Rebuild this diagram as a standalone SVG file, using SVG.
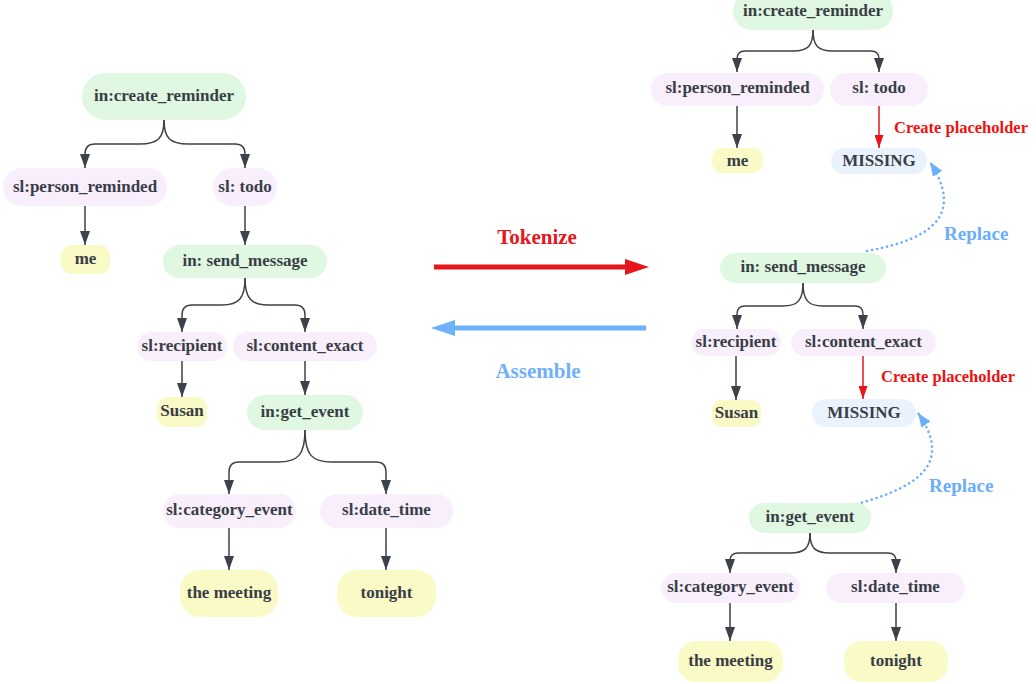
<svg xmlns="http://www.w3.org/2000/svg" width="1036" height="684" viewBox="0 0 1036 684" font-family="'Liberation Serif', 'DejaVu Serif', serif">
<style>
text{font-family:'Liberation Serif','DejaVu Serif',serif;font-weight:bold}
.n text{font-size:17px;fill:#393e46;text-anchor:middle}
.g{fill:#e0f8e1}.p{fill:#f8eefc}.y{fill:#fafac7}.b{fill:#eaf3fd}
.e{fill:none;stroke:#3d424a;stroke-width:1.5}
.r{fill:none;stroke:#e8141b;stroke-width:1.5}
.d{fill:none;stroke:#6aaefc;stroke-width:2.6;stroke-dasharray:0.1 5;stroke-linecap:round}
</style>
<defs>
<marker id="ah" viewBox="0 0 14 10" refX="14" refY="5" markerUnits="userSpaceOnUse" markerWidth="14" markerHeight="10" orient="auto"><path d="M0 0L14 5L0 10z" fill="#3d424a"/></marker>
<marker id="ar" viewBox="0 0 13 9" refX="13" refY="4.5" markerUnits="userSpaceOnUse" markerWidth="13" markerHeight="9" orient="auto"><path d="M0 0L13 4.5L0 9z" fill="#e8141b"/></marker>
<marker id="ab" viewBox="0 0 14 11" refX="14" refY="5.5" markerUnits="userSpaceOnUse" markerWidth="14" markerHeight="11" orient="auto"><path d="M0 0L14 5.5L0 11z" fill="#6aaefc"/></marker>
</defs>

<g id="connectors">
<path class="e" marker-end="url(#ah)" d="M164 120C164 138 158 144 140 144H95Q85 144 85 154V168"/>
<path class="e" marker-end="url(#ah)" d="M164 120C164 138 170 144 188 144H235Q245 144 245 154V168"/>
<path class="e" marker-end="url(#ah)" d="M85 206V245"/>
<path class="e" marker-end="url(#ah)" d="M245 206V245"/>
<path class="e" marker-end="url(#ah)" d="M245 278C245 298 239 305 222 305H192Q182 305 182 315V332"/>
<path class="e" marker-end="url(#ah)" d="M245 278C245 298 251 305 268 305H295Q305 305 305 315V332"/>
<path class="e" marker-end="url(#ah)" d="M182 361V397"/>
<path class="e" marker-end="url(#ah)" d="M305 361V395"/>
<path class="e" marker-end="url(#ah)" d="M305 430C305 455 298 462 278 462H239Q229 462 229 472V494"/>
<path class="e" marker-end="url(#ah)" d="M305 430C305 455 312 462 332 462H376Q386 462 386 472V494"/>
<path class="e" marker-end="url(#ah)" d="M229 528V570"/>
<path class="e" marker-end="url(#ah)" d="M386 528V570"/>

<path class="e" marker-end="url(#ah)" d="M813 30C813 46 808 51 793 51H745Q737 51 737 59V72"/>
<path class="e" marker-end="url(#ah)" d="M813 30C813 46 818 51 833 51H871Q879 51 879 59V72"/>
<path class="e" marker-end="url(#ah)" d="M737 106V148"/>
<path class="r" marker-end="url(#ar)" d="M879 106V148"/>
<path class="e" marker-end="url(#ah)" d="M803 283C803 300 798 306 783 306H745Q737 306 737 314V329"/>
<path class="e" marker-end="url(#ah)" d="M803 283C803 300 808 306 823 306H855Q863 306 863 314V329"/>
<path class="e" marker-end="url(#ah)" d="M736 356V400"/>
<path class="r" marker-end="url(#ar)" d="M863 356V399"/>
<path class="e" marker-end="url(#ah)" d="M810 533C810 548 805 553 790 553H738Q730 553 730 561V573"/>
<path class="e" marker-end="url(#ah)" d="M810 533C810 548 815 553 830 553H888Q896 553 896 561V573"/>
<path class="e" marker-end="url(#ah)" d="M730 603V641"/>
<path class="e" marker-end="url(#ah)" d="M896 603V641"/>

<path class="d" marker-end="url(#ab)" d="M867 251C938 238 962 212 930 162"/>
<path class="d" marker-end="url(#ab)" d="M857 504C922 486 952 462 918 413"/>

<line x1="434" y1="267" x2="627" y2="267" stroke="#e5161c" stroke-width="5"/>
<path d="M625 259L649 267L625 275z" fill="#e5161c"/>
<line x1="453" y1="328" x2="646" y2="328" stroke="#6eb0fa" stroke-width="5"/>
<path d="M455 320L431 328L455 336z" fill="#6eb0fa"/>
</g>

<g id="labels">
<text x="537" y="244" font-size="21" fill="#e5161c" text-anchor="middle">Tokenize</text>
<text x="538" y="378" font-size="21" fill="#6eb0fa" text-anchor="middle">Assemble</text>
<text x="894" y="133" font-size="16.5" fill="#ee1111">Create placeholder</text>
<text x="881" y="382" font-size="16.5" fill="#ee1111">Create placeholder</text>
<text x="944" y="240" font-size="19" fill="#6aaefc">Replace</text>
<text x="929" y="492" font-size="19" fill="#6aaefc">Replace</text>
</g>

<g id="L_create" class="n"><rect class="g" x="82" y="73" width="164" height="47" rx="23.5"/><text x="164" y="101">in:create_reminder</text></g>
<g id="L_person" class="n"><rect class="p" x="3" y="168" width="164" height="38" rx="19"/><text x="85" y="192">sl:person_reminded</text></g>
<g id="L_todo" class="n"><rect class="p" x="213" y="168" width="64" height="38" rx="19"/><text x="245" y="192">sl: todo</text></g>
<g id="L_me" class="n"><rect class="y" x="61" y="245" width="49" height="29" rx="10"/><text x="85.5" y="264">me</text></g>
<g id="L_send" class="n"><rect class="g" x="163" y="245" width="164" height="33" rx="16.5"/><text x="245" y="266">in: send_message</text></g>
<g id="L_recip" class="n"><rect class="p" x="137" y="332" width="90" height="29" rx="14.5"/><text x="182" y="351">sl:recipient</text></g>
<g id="L_content" class="n"><rect class="p" x="233" y="332" width="144" height="29" rx="14.5"/><text x="305" y="351">sl:content_exact</text></g>
<g id="L_susan" class="n"><rect class="y" x="157" y="397" width="50" height="30" rx="10"/><text x="182" y="416">Susan</text></g>
<g id="L_getevent" class="n"><rect class="g" x="247" y="395" width="116" height="35" rx="17.5"/><text x="305" y="417">in:get_event</text></g>
<g id="L_category" class="n"><rect class="p" x="163" y="494" width="133" height="34" rx="17"/><text x="229.5" y="515">sl:category_event</text></g>
<g id="L_date" class="n"><rect class="p" x="320" y="494" width="133" height="34" rx="17"/><text x="386.5" y="515">sl:date_time</text></g>
<g id="L_meeting" class="n"><rect class="y" x="180" y="570" width="98" height="47" rx="20"/><text x="229" y="598">the meeting</text></g>
<g id="L_tonight" class="n"><rect class="y" x="337" y="570" width="99" height="47" rx="20"/><text x="386.5" y="598">tonight</text></g>

<g id="R_create" class="n"><rect class="g" x="733" y="-8" width="160" height="38" rx="19"/><text x="813" y="16">in:create_reminder</text></g>
<g id="R_person" class="n"><rect class="p" x="651" y="73" width="173" height="33" rx="16.5"/><text x="737.5" y="93">sl:person_reminded</text></g>
<g id="R_todo" class="n"><rect class="p" x="830" y="73" width="98" height="33" rx="16.5"/><text x="879" y="93">sl: todo</text></g>
<g id="R_me" class="n"><rect class="y" x="712" y="148" width="51" height="25" rx="10"/><text x="737.5" y="166">me</text></g>
<g id="R_missing1" class="n"><rect class="b" x="831" y="148" width="96" height="26" rx="13"/><text x="879" y="166">MISSING</text></g>
<g id="R_send" class="n"><rect class="g" x="720" y="253" width="166" height="30" rx="15"/><text x="803" y="272">in: send_message</text></g>
<g id="R_recip" class="n"><rect class="p" x="691" y="329" width="90" height="27" rx="13.5"/><text x="736" y="347">sl:recipient</text></g>
<g id="R_content" class="n"><rect class="p" x="791" y="329" width="145" height="27" rx="13.5"/><text x="863.5" y="347">sl:content_exact</text></g>
<g id="R_susan" class="n"><rect class="y" x="712" y="400" width="49" height="27" rx="9"/><text x="736.5" y="418">Susan</text></g>
<g id="R_missing2" class="n"><rect class="b" x="812" y="399" width="104" height="28" rx="14"/><text x="864" y="418">MISSING</text></g>
<g id="R_getevent" class="n"><rect class="g" x="749" y="503" width="122" height="30" rx="15"/><text x="810" y="522">in:get_event</text></g>
<g id="R_category" class="n"><rect class="p" x="661" y="573" width="139" height="30" rx="15"/><text x="730.5" y="592">sl:category_event</text></g>
<g id="R_date" class="n"><rect class="p" x="826" y="573" width="139" height="30" rx="15"/><text x="895.5" y="592">sl:date_time</text></g>
<g id="R_meeting" class="n"><rect class="y" x="678" y="641" width="105" height="41" rx="18"/><text x="730.5" y="666">the meeting</text></g>
<g id="R_tonight" class="n"><rect class="y" x="844" y="641" width="104" height="41" rx="18"/><text x="896" y="666">tonight</text></g>
</svg>
